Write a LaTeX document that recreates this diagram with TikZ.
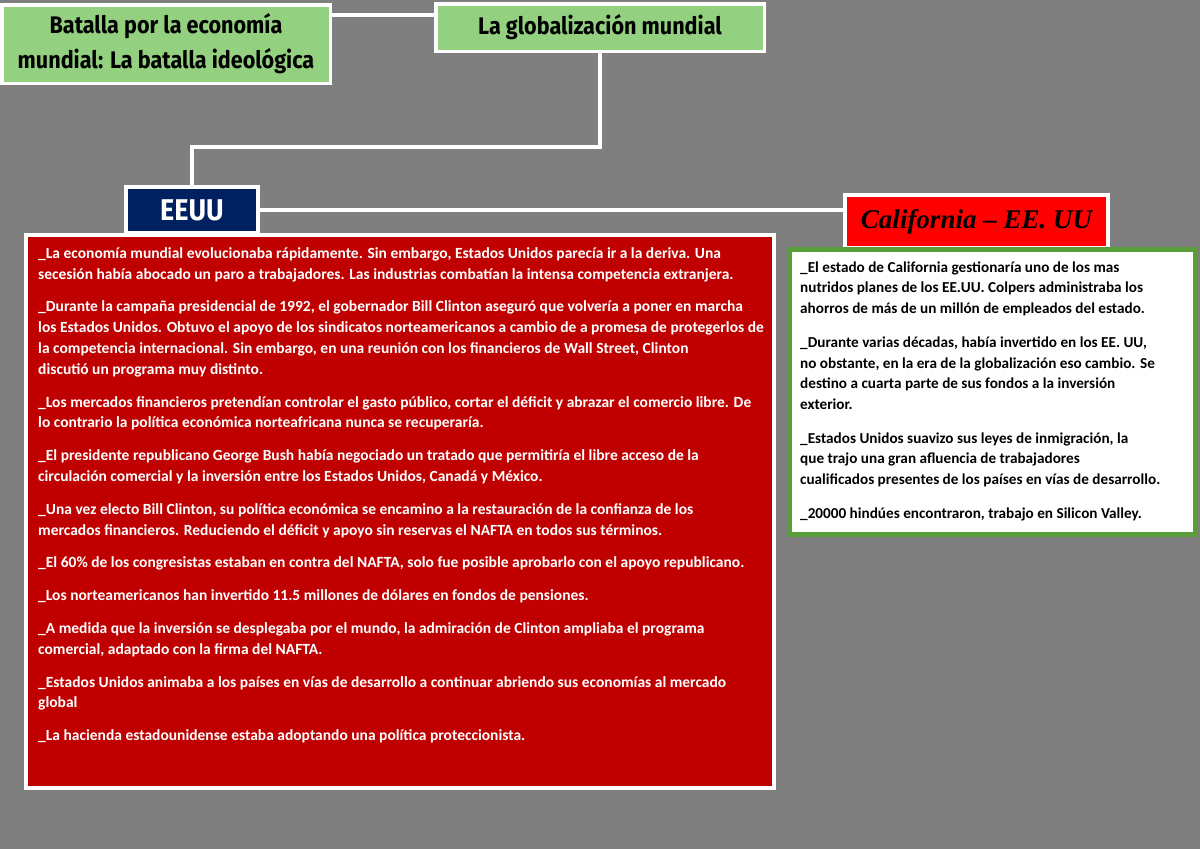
\documentclass[tikz,border=0pt]{standalone}
\usepackage{fontspec}
\setmainfont{Carlito}
\newfontfamily\titlefont[FakeStretch=0.9]{Fira Sans}
\newfontfamily\califfont{Liberation Serif}
\usetikzlibrary{positioning}

\definecolor{bggray}{HTML}{7F7F7F}
\definecolor{titlegreen}{HTML}{93D080}
\definecolor{navy}{HTML}{002060}
\definecolor{darkred}{HTML}{C00000}
\definecolor{califred}{HTML}{FF0000}
\definecolor{framegreen}{HTML}{5A9E3A}

\tikzstyle{titlebox} = [draw=white, line width=3.5pt, fill=titlegreen, inner sep=0pt, align=center, text=black, font=\titlefont\bfseries\fontsize{24}{35}\selectfont]
\tikzstyle{headbox} = [draw=white, line width=4pt, inner sep=0pt, align=center]
\tikzstyle{panel} = [draw=white, line width=4pt, inner sep=0pt]
\tikzstyle{link} = [draw, white, line width=4pt]
\tikzstyle{bodytext} = [inner sep=0pt, align=left, anchor=north west]

\begin{document}
\begin{tikzpicture}[x=1pt, y=-1pt]

  \useasboundingbox (0,0) rectangle (1200,849);
  \fill[bggray] (0,0) rectangle (1200,849);

  % titles
  \node[titlebox, minimum width=328.5pt, minimum height=78.5pt] (batalla) at (166,44) {Batalla por la economía\\mundial: La batalla ideológica};
  \node[titlebox, minimum width=328.5pt, minimum height=47.5pt] (globa) at (600,27.5) {La globalización mundial};

  \draw[link] ([yshift=-12pt]batalla.north east) -- ([yshift=-12pt]batalla.north east -| globa.west);

  % EEUU
  \node[headbox, fill=navy, text=white, minimum width=132pt, minimum height=46pt,
        font=\titlefont\bfseries\fontsize{30}{30}\selectfont] (eeuu) at (192,210) {EEUU};
  \draw[link] (globa.south) -- ++(0,94) -| (eeuu.north);

  \node[panel, fill=darkred, minimum width=748pt, minimum height=553pt] (eeuubox) at (400,511.5) {};
  \node[bodytext, text=white, font=\bfseries\fontsize{15.5}{20.8}\selectfont] (eeuutxt) at ([xshift=14pt, yshift=-10pt]eeuubox.north west) {\rule{0pt}{15pt}%
\_La economía mundial evolucionaba rápidamente. Sin embargo, Estados Unidos parecía ir a la deriva. Una\\
secesión había abocado un paro a trabajadores. Las industrias combatían la intensa competencia extranjera.\\[12pt]
\_Durante la campaña presidencial de 1992, el gobernador Bill Clinton aseguró que volvería a poner en marcha\\
los Estados Unidos. Obtuvo el apoyo de los sindicatos norteamericanos a cambio de a promesa de protegerlos de\\
la competencia internacional. Sin embargo, en una reunión con los financieros de Wall Street, Clinton\\
discutió un programa muy distinto.\\[12pt]
\_Los mercados financieros pretendían controlar el gasto público, cortar el déficit y abrazar el comercio libre. De\\
lo contrario la política económica norteafricana nunca se recuperaría.\\[12pt]
\_El presidente republicano George Bush había negociado un tratado que permitiría el libre acceso de la\\
circulación comercial y la inversión entre los Estados Unidos, Canadá y México.\\[12pt]
\_Una vez electo Bill Clinton, su política económica se encamino a la restauración de la confianza de los\\
mercados financieros. Reduciendo el déficit y apoyo sin reservas el NAFTA en todos sus términos.\\[12pt]
\_El 60\% de los congresistas estaban en contra del NAFTA, solo fue posible aprobarlo con el apoyo republicano.\\[12pt]
\_Los norteamericanos han invertido 11.5 millones de dólares en fondos de pensiones.\\[12pt]
\_A medida que la inversión se desplegaba por el mundo, la admiración de Clinton ampliaba el programa\\
comercial, adaptado con la firma del NAFTA.\\[12pt]
\_Estados Unidos animaba a los países en vías de desarrollo a continuar abriendo sus economías al mercado\\
global\\[12pt]
\_La hacienda estadounidense estaba adoptando una política proteccionista.};

  % California
  \node[headbox, fill=califred, text=black, minimum width=263pt, minimum height=53pt,
        font=\califfont\bfseries\itshape\fontsize{27}{27}\selectfont] (calif) at (976.5,221.5) {California – EE. UU};
  \draw[link] (eeuu.east) -- (eeuu.east -| calif.west);

  \node[panel, draw=framegreen, line width=5pt, fill=white, minimum width=406pt, minimum height=285pt] (califbox) at (992.5,392) {};
  \node[bodytext, text=black, font=\bfseries\fontsize{15.2}{20.7}\selectfont] (califtxt) at ([xshift=13pt, yshift=-10pt]califbox.north west) {\rule{0pt}{15pt}%
\_El estado de California gestionaría uno de los mas\\
nutridos planes de los EE.UU. Colpers administraba los\\
ahorros de más de un millón de empleados del estado.\\[13pt]
\_Durante varias décadas, había invertido en los EE. UU,\\
no obstante, en la era de la globalización eso cambio. Se\\
destino a cuarta parte de sus fondos a la inversión\\
exterior.\\[13pt]
\_Estados Unidos suavizo sus leyes de inmigración, la\\
que trajo una gran afluencia de trabajadores\\
cualificados presentes de los países en vías de desarrollo.\\[13pt]
\_20000 hindúes encontraron, trabajo en Silicon Valley.};

\end{tikzpicture}
\end{document}
